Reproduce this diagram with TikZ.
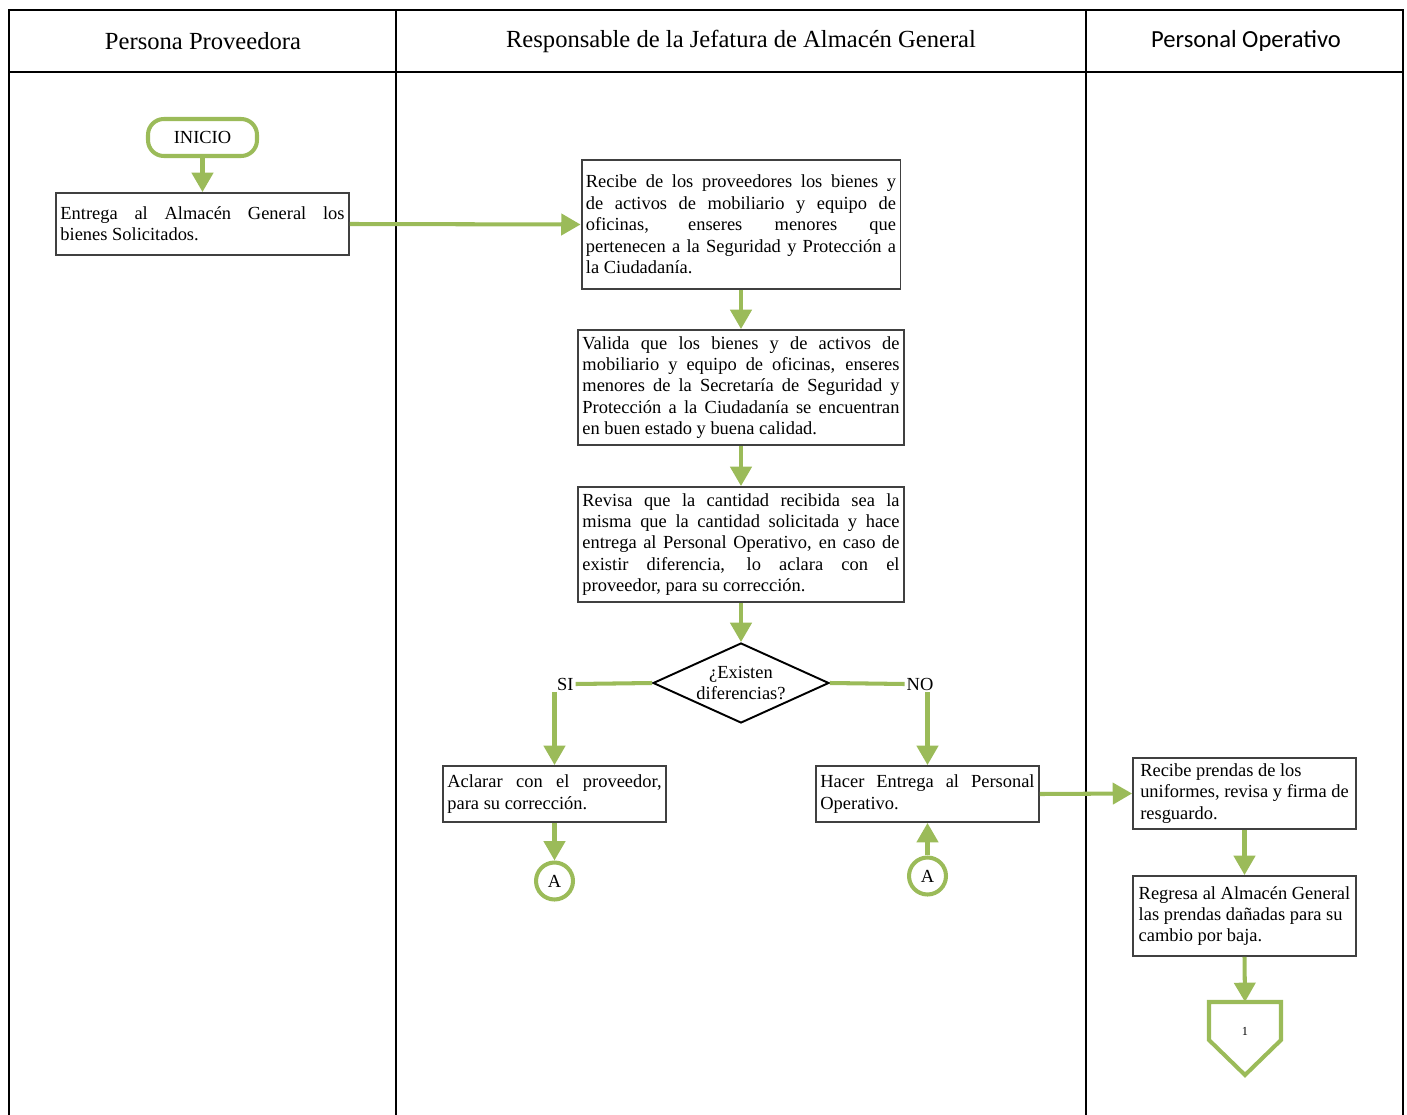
\documentclass[tikz,border=0pt]{standalone}
\usepackage{fontspec}
\setmainfont{Liberation Serif}
\newfontfamily\sansop{Carlito}
\usetikzlibrary{arrows.meta,shapes.geometric}
\definecolor{verde}{HTML}{9BBB59}
\definecolor{borde}{HTML}{404040}
\tikzset{
  lane/.style={line width=1.2pt, black},
  caja/.style={draw=borde, line width=1.1pt, inner xsep=2.5pt, inner ysep=1pt, align=justify, font=\fontsize{10.5}{12.2}\selectfont},
  cajalibre/.style={caja, align=left, text width=, minimum width=4.46cm},
  flecha/.style={verde, line width=2.3pt, -{Triangle[width=12pt,length=11pt]}},
  linea/.style={verde, line width=2.3pt},
  conector/.style={circle, draw=verde, line width=2.3pt, minimum size=0.74cm, inner sep=0pt, font=\fontsize{10.5}{12}\selectfont},
  encabezado/.style={font=\fontsize{14}{16}\selectfont}
}
\begin{document}
\begin{tikzpicture}[x=0.02cm, y=-0.02cm]
\useasboundingbox (0,0) rectangle (1407,1115);
\draw[lane] (9,1115) -- (9,10) -- (1403,10) -- (1403,1115); %frame
\draw[lane] (9,72) -- (1403,72); %header line
\draw[lane] (396,10) -- (396,1115); %lane 1
\draw[lane] (1086,10) -- (1086,1115); %lane 2
\node[encabezado] (hd1) at (203,41) {Persona Proveedora};
\node[encabezado] (hd2) at (741,41) {Responsable de la Jefatura de Almacén General};
\node[encabezado, font=\sansop\fontsize{14}{16}\selectfont] (hd3) at (1246,41) {Personal Operativo};
\node[draw=verde, line width=2.3pt, rounded corners=9pt, minimum width=2.18cm, minimum height=0.74cm, font=\fontsize{10.5}{12}\selectfont] (inicio) at (202.5,137.5) {INICIO}; %start
\node[caja, text width=5.86cm-5pt, minimum height=1.24cm] (entrega) at (202.5,224) {Entrega al Almacén General los\linebreak bienes Solicitados.};
\node[caja, text width=6.38cm-5pt, minimum height=2.58cm] (recibe) at (741,224.5) {Recibe de los proveedores los bienes y\linebreak de activos de mobiliario y equipo de\linebreak oficinas, enseres menores que\linebreak pertenecen a la Seguridad y Protección a\linebreak la Ciudadanía.};
\node[caja, text width=6.52cm-5pt, minimum height=2.3cm] (valida) at (741,387.5) {Valida que los bienes y de activos de\linebreak mobiliario y equipo de oficinas, enseres\linebreak menores de la Secretaría de Seguridad y\linebreak Protección a la Ciudadanía se encuentran\linebreak en buen estado y buena calidad.};
\node[caja, text width=6.52cm-5pt, minimum height=2.3cm] (revisa) at (741,544.5) {Revisa que la cantidad recibida sea la\linebreak misma que la cantidad solicitada y hace\linebreak entrega al Personal Operativo, en caso de\linebreak existir diferencia, lo aclara con el\linebreak proveedor, para su corrección.};
\node[draw=black, line width=1.1pt, diamond, minimum width=3.52cm, minimum height=1.6cm, inner sep=0pt] (dec) at (741,683) {}; %decision
\node[align=center, inner sep=0pt, font=\fontsize{10.5}{12.2}\selectfont] (dectxt) at (dec) {¿Existen\\diferencias?};
\node[anchor=west, inner sep=1pt, font=\fontsize{10.5}{12}\selectfont] (si) at (555,684) {SI};
\node[inner sep=1pt, font=\fontsize{10.5}{12}\selectfont] (no) at (920,684) {NO};
\node[caja, text width=4.46cm-5pt, minimum height=1.12cm] (aclarar) at (554.5,794) {Aclarar con el proveedor,\linebreak para su corrección.};
\node[caja, text width=4.46cm-5pt, minimum height=1.12cm] (hacer) at (927.5,794) {Hacer Entrega al Personal\linebreak Operativo.};
\node[cajalibre, minimum height=1.42cm] (prendas) at (1244.5,793.5) {Recibe prendas de los\\uniformes, revisa y firma de\\resguardo.};
\node[cajalibre, minimum height=1.6cm] (regresa) at (1244.5,916) {Regresa al Almacén General\\las prendas dañadas para su\\cambio por baja.};
\node[conector] (a1) at (554.5,881) {A};
\node[conector] (a2) at (927.5,876) {A};
\draw[linea] (1209,1002) -- (1281,1002) -- (1281,1040) -- (1245,1075) -- (1209,1040) -- cycle; %off page
\coordinate (pag) at (1245,1002);
\node[font=\fontsize{7}{8}\selectfont] (uno) at (1245,1031) {1};
\draw[flecha] (inicio) -- (entrega);
\draw[flecha] (entrega.east) -- (recibe.west);
\draw[flecha] (recibe) -- (valida);
\draw[flecha] (valida) -- (revisa);
\draw[flecha] (revisa) -- (dec);
\draw[linea] (dec.west) -- (si.east);
\draw[flecha] (aclarar.north |- si.south) -- (aclarar.north);
\draw[linea] (dec.east) -- (no.west);
\draw[flecha] (hacer.north |- no.south) -- (hacer.north);
\draw[flecha] (aclarar) -- (a1);
\draw[flecha] (a2) -- (hacer);
\draw[flecha] (hacer.east) -- (prendas.west);
\draw[flecha] (prendas) -- (regresa);
\draw[flecha] (regresa.south) -- (pag);
\end{tikzpicture}
\end{document}
